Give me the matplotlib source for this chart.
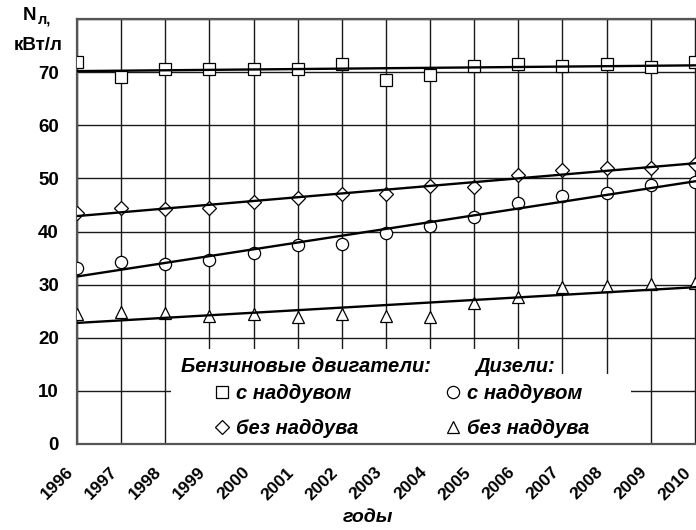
import numpy as np
import matplotlib.pyplot as plt
import matplotlib.transforms as mtransforms
from matplotlib.patches import Rectangle
from matplotlib.lines import Line2D
from matplotlib.font_manager import FontProperties

plt.rcParams['font.family'] = ['Liberation Sans', 'DejaVu Sans']

# данные
years = list(range(1996, 2011))
petrol_turbo = [72.0, 69.0, 70.6, 70.5, 70.5, 70.5, 71.5, 68.6, 69.4, 71.2, 71.5, 71.2, 71.5, 71.0, 72.0]
petrol_na = [43.4, 44.5, 44.2, 44.4, 45.5, 46.4, 47.0, 47.0, 48.5, 48.3, 50.6, 51.5, 52.0, 52.0, 52.8]
diesel_turbo = [33.1, 34.2, 33.8, 34.6, 35.9, 37.4, 37.6, 39.8, 41.0, 42.7, 45.3, 46.6, 47.2, 48.7, 49.4]
diesel_na = [24.4, 24.8, 24.6, 24.1, 24.4, 23.9, 24.4, 24.1, 23.9, 26.5, 27.6, 29.5, 29.7, 30.1, 30.3]
y_ticks = [0, 10, 20, 30, 40, 50, 60, 70]

fig = plt.figure(figsize=(6.96, 5.30), dpi=100)
ax = fig.add_axes([77 / 696, 1 - 444 / 530, (739 - 77) / 696, (444 - 19) / 530])
ax.set_xlim(1996, 2011)
ax.set_ylim(0, 80)

# сетка
ax.set_axisbelow(True)
ax.set_xticks(years + [2011])
ax.set_yticks(y_ticks + [80])
ax.grid(True, color='#1a1a1a', lw=1.0)
for s in ax.spines.values():
    s.set_color('#555555')
    s.set_linewidth(1.6)

# белые подложки под подписи
ax.add_patch(Rectangle((1998.13, 0), 2008.56 - 1998.13, 13.2, fc='white', ec='none', zorder=2))
ax.add_patch(Rectangle((1998.13, 12.9), 2006.6 - 1998.13, 17.9 - 12.9, fc='white', ec='none', zorder=2))

# точки и линейные тренды
series = [(petrol_turbo, 's', 8.8), (petrol_na, 'D', 7), (diesel_turbo, 'o', 8.8), (diesel_na, '^', 8.8)]
handles = []
for vals, m, ms in series:
    ax.plot(years, vals, ls='none', marker=m, ms=ms, mfc='white', mec='black', mew=0.9, zorder=3)
    handles.append(Line2D([], [], ls='none', marker=m, ms=ms, mfc='white', mec='black', mew=0.9))
    coef = np.polyfit(years, vals, 1)
    ax.plot(years, np.polyval(coef, years), color='black', lw=1.7, zorder=4)

# подписи осей
labels = [str(y) for y in years] + ['']
ax.set_xticklabels(labels, rotation=45, ha='right', va='center', rotation_mode='anchor',
                   fontsize=12.5, fontweight='bold')
ax.set_yticklabels([str(v) for v in y_ticks] + [''], fontsize=13.5, fontweight='bold')
ax.tick_params(axis='x', length=0, pad=0)
ax.tick_params(axis='y', length=0, pad=13)
offset = mtransforms.ScaledTranslation(-6 / 100, -26 / 100, fig.dpi_scale_trans)
for lab in ax.get_xticklabels():
    lab.set_transform(lab.get_transform() + offset)

fig.text(23 / 696, 1 - 20 / 530, 'N', fontsize=13.5, fontweight='bold', ha='left', va='baseline')
fig.text(38 / 696, 1 - 23 / 530, 'л,', fontsize=10.5, fontweight='bold', ha='left', va='baseline')
fig.text(38 / 696, 1 - 46 / 530, 'кВт/л', fontsize=13.5, fontweight='bold', ha='center', va='center')
fig.text(368 / 696, 1 - 518 / 530, 'годы', fontsize=14, fontweight='bold', style='italic',
         ha='center', va='center')

# легенда
fig.text(181 / 696, 1 - 366 / 530, 'Бензиновые двигатели:', fontsize=14.5, fontweight='bold',
         style='italic', ha='left', va='center', zorder=6)
fig.text(475 / 696, 1 - 366 / 530, 'Дизели:', fontsize=14.5, fontweight='bold',
         style='italic', ha='left', va='center', zorder=6)
ax.legend(handles, ['с наддувом', 'без наддува', 'с наддувом', 'без наддува'], ncol=2,
          frameon=False, loc='upper left', bbox_to_anchor=(214 / 696, 1 - 384 / 530),
          bbox_transform=fig.transFigure,
          prop=FontProperties(family=['Liberation Sans', 'DejaVu Sans'], weight='bold',
                              style='italic', size=14.5),
          handlelength=0.8, handletextpad=0.3, columnspacing=4.3, labelspacing=0.8,
          borderpad=0, borderaxespad=0)

plt.savefig('out.png', dpi=100)
